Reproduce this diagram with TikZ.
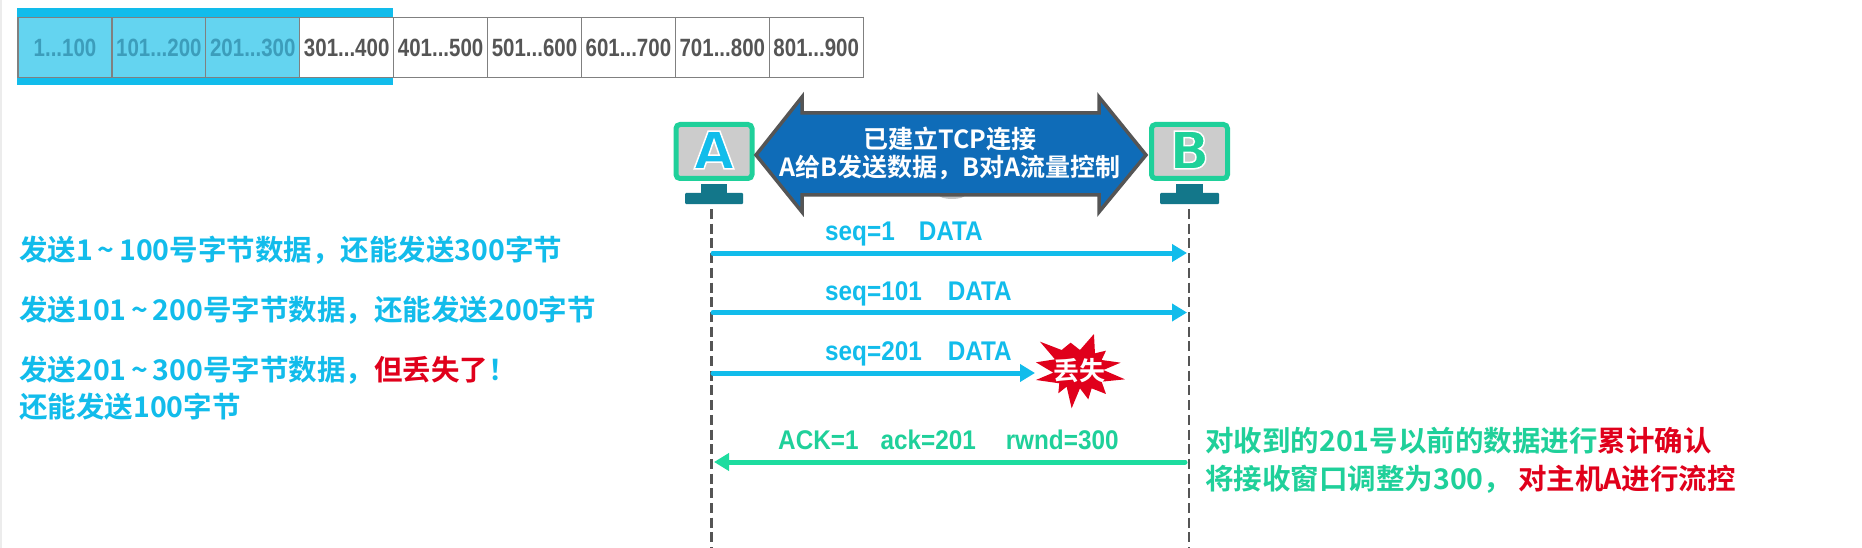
\documentclass[tikz,border=0pt]{standalone}
\usepackage{fontspec}
\setmainfont{Liberation Sans}
\newfontfamily\cjk{Noto Sans CJK SC}[BoldFont={Noto Sans CJK SC Bold}]
\newfontfamily\narrowcell[FakeStretch=0.82]{Liberation Sans Bold}
\newfontfamily\msgfont[FakeStretch=0.9]{Liberation Sans Bold}
\newfontfamily\markfont{DejaVu Sans Bold}
\definecolor{cy}{HTML}{12BCEB}
\definecolor{cyl}{HTML}{64D4F0}
\definecolor{gr}{HTML}{1DDC9F}
\definecolor{grd}{HTML}{1FD09A}
\definecolor{rd}{HTML}{E0001B}
\definecolor{tl}{HTML}{13778A}
\definecolor{bl}{HTML}{0F6CB8}
\definecolor{dg}{HTML}{555555}
\definecolor{cellc}{HTML}{3C9DBB}
\usetikzlibrary{arrows.meta}
\tikzset{
  cell/.style={draw=gray,line width=1.2pt,minimum width=93.9pt,minimum height=60pt,inner sep=0pt,text=dg,font=\fontsize{25}{28}\selectfont\narrowcell},
  filled/.style={fill=cyl,text=cellc},
  lbl/.style={inner sep=0pt,anchor=west,font=\fontsize{28.5}{34}\selectfont\bfseries\cjk,text=cy},
  glbl/.style={lbl,text=grd},
  msg/.style={inner sep=0pt,font=\fontsize{27}{30}\selectfont\msgfont},
  life/.style={draw=dg,line width=2.5pt,dash pattern=on 10pt off 4.7pt},
  flow/.style={line width=5pt,line cap=round,-{Triangle[length=15pt,width=17pt]}},
  scr/.style={draw=grd,fill=gray!40,line width=5pt,rounded corners=4pt,minimum width=76pt,minimum height=54pt,inner sep=0pt},
  hostmark/.style={inner sep=0pt,font=\fontsize{52}{52}\selectfont\markfont},
}
\newcommand{\outlined}[2]{\special{pdf:code q 2 Tr 1.5 w 1 1 1 RG #1 rg}#2\special{pdf:code Q}}
\begin{document}
\begin{tikzpicture}[x=1pt,y=-1pt]
\useasboundingbox (0,0) rectangle (1862,548);
\fill[white] (0,0) rectangle (1862,548);
\fill[gray!15] (0,0) rectangle (1.5,548);
% sliding window bars
\fill[cy] (17,8) rectangle (393,18);
\fill[cy] (17,77) rectangle (393,85);
% cells
\node[cell,filled] (c1) at (65,47.5) {1...100};
\node[cell,filled] (c2) at (158.9,47.5) {101...200};
\node[cell,filled] (c3) at (252.8,47.5) {201...300};
\node[cell] (c4) at (346.7,47.5) {301...400};
\node[cell] (c5) at (440.6,47.5) {401...500};
\node[cell] (c6) at (534.5,47.5) {501...600};
\node[cell] (c7) at (628.4,47.5) {601...700};
\node[cell] (c8) at (722.3,47.5) {701...800};
\node[cell] (c9) at (816.2,47.5) {801...900};
% left texts
\node[lbl] (l1) at (19,250.5) {发送1\,\char`~\,100号字节数据，还能发送300字节};
\node[lbl] (l2) at (19,310.5) {发送101\,\char`~\,200号字节数据，还能发送200字节};
\node[lbl] (l3) at (19,370.5) {发送201\,\char`~\,300号字节数据，{\color{rd}但丢失了}！};
\node[lbl] (l4) at (19,406.5) {还能发送100字节};
% lifelines
\coordinate (atop) at (711.5,209);
\coordinate (abot) at (711.5,548);
\coordinate (btop) at (1189,209);
\coordinate (bbot) at (1189,548);
\draw[life] (atop) -- (abot);
\draw[life] (btop) -- (bbot);
% hosts
\node[scr] (A) at (714,151.5) {};
\node[scr] (B) at (1189.5,151.5) {};
\fill[tl] (700.7,184) rectangle (727,193);
\fill[tl,rounded corners=1pt] (685,193) rectangle (743,204);
\fill[tl] (1176,184) rectangle (1203,193);
\fill[tl,rounded corners=1pt] (1160,193) rectangle (1219,204);
\node[hostmark] (Amark) at (714,150) {\outlined{0.07 0.74 0.92}{A}};
\node[hostmark] (Bmark) at (1189.5,150) {\outlined{0.12 0.82 0.6}{B}};
% double arrow
\fill[gray!45] (939,195) arc[start angle=180,end angle=0,radius=13pt,y radius=-4pt] -- cycle;
\draw[draw=dg,fill=bl,line width=3.5pt,miter limit=10]
  (756,155) -- (802,97) -- (802,113) -- (1099,113) -- (1099,97) -- (1146,155)
  -- (1099,212) -- (1099,195) -- (802,195) -- (802,212) -- cycle;
\node[inner sep=0pt,text=white,font=\fontsize{25}{25}\selectfont\bfseries\cjk] (t1) at (950,139) {已建立TCP连接};
\node[inner sep=0pt,text=white,font=\fontsize{25}{25}\selectfont\bfseries\cjk] (t2) at (950,168) {A给B发送数据，B对A流量控制};
% messages
\coordinate (a1) at (713,253); \coordinate (b1) at (1187,253);
\coordinate (a2) at (713,312.5); \coordinate (b2) at (1187,312.5);
\coordinate (a3) at (713,373); \coordinate (x3) at (1035,373);
\coordinate (a4) at (714,462); \coordinate (b4) at (1185,462);
\draw[flow,cy] (a1) -- (b1);
\draw[flow,cy] (a2) -- (b2);
\draw[flow,cy] (a3) -- (x3);
\draw[flow,gr] (b4) -- (a4);
\node[msg,text=cy,anchor=west] (m1) at (825,234.5) {seq=1\hspace{24pt}DATA};
\node[msg,text=cy,anchor=west] (m2) at (825,294) {seq=101\hspace{26pt}DATA};
\node[msg,text=cy,anchor=west] (m3) at (825,353.5) {seq=201\hspace{26pt}DATA};
\node[msg,text=grd,anchor=west] (m4) at (778,440) {ACK=1\hspace{22pt}ack=201\hspace{30pt}rwnd=300};
% starburst
\begin{scope}[shift={(700,320)},x=.3333pt,y=-.3333pt]
\fill[rd] (1020,65) -- (1085,90) -- (1112,68) -- (1140,90) -- (1182,42) -- (1185,100)
  -- (1218,92) -- (1205,120) -- (1262,128) -- (1210,150) -- (1275,178) -- (1205,185)
  -- (1218,222) -- (1175,205) -- (1165,238) -- (1140,205) -- (1115,265) -- (1100,200)
  -- (1075,220) -- (1078,190) -- (1008,180) -- (1060,158) -- (1008,127) -- (1065,118) -- cycle;
\end{scope}
\node[inner sep=0pt,text=white,font=\fontsize{26}{26}\selectfont\bfseries\cjk] (lost) at (1079,371) {丢失};
% right texts
\node[glbl] (r1) at (1205,441) {对收到的201号以前的数据进行{\color{rd}累计确认}};
\node[glbl] (r2) at (1205,479.5) {将接收窗口调整为300，\hspace{6pt}{\color{rd}对主机A进行流控}};
\end{tikzpicture}
\end{document}
